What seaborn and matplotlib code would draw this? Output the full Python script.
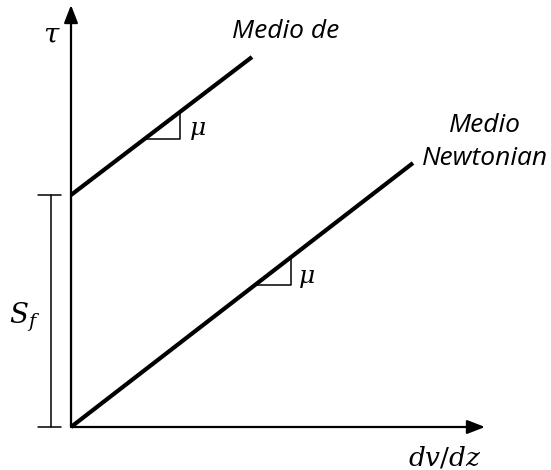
import matplotlib
matplotlib.use("Agg")
import matplotlib.pyplot as plt
import seaborn as sns
import pandas as pd

# data (units: shear rate / stress, origin at 0)
rate_newton = [0, 342]
stress_newton = [0, 264]
rate_bingham = [0, 181]
stress_bingham = [232, 370]
yield_rate = [0, 0]
yield_stress = [0, 232]
axis_x_end = 414
axis_y_end = 422

labels = {
    "tau": r"$\tau$",
    "mu": r"$\mu$",
    "sf": r"$S_f$",
    "rate": r"$dv/dz$",
    "bingham": "Medio de",
    "newton": "Medio\nNewtonian",
}


def main():
    sns.set_theme(style="white")
    plt.rcParams["mathtext.fontset"] = "dejavuserif"
    plt.rcParams["font.family"] = ["Open Sans", "DejaVu Sans"]
    plt.rcParams["text.color"] = "black"

    fig = plt.figure(figsize=(5.51, 4.70), dpi=100)
    ax = fig.add_axes([0, 0, 1, 1])
    ax.set_xlim(-71, 480)
    ax.set_ylim(-43, 427)
    ax.axis("off")

    newton = pd.DataFrame({"x": rate_newton, "y": stress_newton})
    bingham = pd.DataFrame({"x": rate_bingham, "y": stress_bingham})
    yld = pd.DataFrame({"x": yield_rate, "y": yield_stress})

    # axes with arrow heads
    arrow = dict(arrowstyle="-|>,head_length=0.9,head_width=0.35",
                 color="black", lw=1.6, shrinkA=0, shrinkB=0)
    ax.annotate("", xy=(axis_x_end, 0), xytext=(0, 0), arrowprops=arrow)
    ax.annotate("", xy=(0, axis_y_end), xytext=(0, 0), arrowprops=arrow)

    # curves
    sns.lineplot(data=newton, x="x", y="y", ax=ax, color="black", lw=3,
                 solid_capstyle="butt")
    sns.lineplot(data=bingham, x="x", y="y", ax=ax, color="black", lw=3,
                 solid_capstyle="butt")
    sns.lineplot(data=yld, x="x", y="y", ax=ax, color="black", lw=3.4,
                 solid_capstyle="butt")

    # slope triangles
    s1 = (stress_bingham[1] - stress_bingham[0]) / rate_bingham[1]
    x0, x1 = 74, 109
    y0 = stress_bingham[0] + s1 * x0
    ax.plot([x0, x1, x1], [y0, y0, stress_bingham[0] + s1 * x1],
            color="black", lw=1.1)
    ax.text(x1 + 9, y0 + 9, labels["mu"], fontsize=18, va="center")

    s2 = stress_newton[1] / rate_newton[1]
    x0, x1 = 184, 220
    y0 = s2 * x0
    ax.plot([x0, x1, x1], [y0, y0, s2 * x1], color="black", lw=1.1)
    ax.text(x1 + 7, y0 + 7, labels["mu"], fontsize=18, va="center")

    # yield stress bracket
    bx = -20
    ax.plot([bx, bx], [0, yield_stress[1]], color="black", lw=1.1)
    for yy in [0, yield_stress[1]]:
        ax.plot([bx - 13, bx + 10], [yy, yy], color="black", lw=1.1)
    ax.text(-46, 110, labels["sf"], fontsize=20, ha="center", va="center")

    # labels
    ax.text(-19, 391, labels["tau"], fontsize=20, ha="center", va="center")
    ax.text(374, -31, labels["rate"], fontsize=19, ha="center", va="center")
    ax.text(161, 395, labels["bingham"], fontsize=19, style="italic",
            ha="left", va="center")
    ax.text(414, 285, labels["newton"], fontsize=19, style="italic",
            ha="center", va="center", multialignment="center",
            linespacing=1.4)

    fig.savefig("out.png", dpi=100)


if __name__ == "__main__":
    main()
